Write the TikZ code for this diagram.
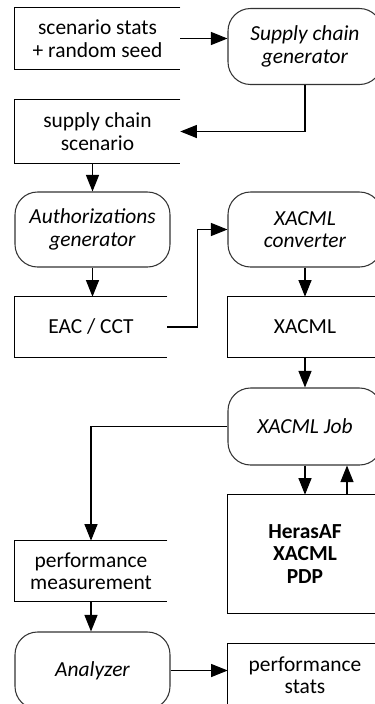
\documentclass[tikz,border=0pt]{standalone}
\usepackage{fontspec}
\setmainfont{Carlito}
\usetikzlibrary{arrows.meta, positioning, calc}

\tikzset{
  proc/.style={draw=black!80, line width=0.6pt, rounded corners=0.45cm, minimum width=3.08cm, minimum height=1.52cm, align=center, font=\fontsize{12.2}{12.8}\selectfont\itshape},
  databox/.style={minimum height=1.2cm, align=center, font=\fontsize{12.2}{12.8}\selectfont},
  flow/.style={-{Triangle[length=0.33cm, width=0.26cm]}, line width=0.6pt},
}

\begin{document}
\begin{tikzpicture}[x=0.02cm, y=-0.02cm]
  \path[use as bounding box, clip] (0,0) rectangle (375,704);

  % left column
  \node[databox, minimum width=3.3cm, minimum height=1.22cm] (stats) at (97.5,38.5) {scenario stats\\+ random seed};
  \node[databox, minimum width=3.3cm, minimum height=1.26cm] (scen) at (97.5,131.5) {supply chain\\scenario};
  \node[proc, minimum width=3.1cm, minimum height=1.5cm] (authgen) at (92.5,229.5) {Authorizations\\generator};
  \node[databox, minimum width=3.04cm] (eac) at (91,327) {EAC / CCT};
  \node[databox, minimum width=3.04cm] (meas) at (91,571) {performance\\measurement};
  \node[proc, minimum width=3.1cm, minimum height=1.54cm] (analyzer) at (92.5,670.5) {Analyzer};

  % right column
  \node[proc] (scgen) at (305,46.5) {Supply chain\\generator};
  \node[proc, minimum height=1.5cm] (conv) at (305,229.5) {XACML\\converter};
  \node[databox, minimum width=3.08cm] (xacml) at (305,327) {XACML};
  \node[proc, minimum height=1.54cm] (job) at (305,426.5) {XACML Job};
  \node[databox, minimum width=3.08cm, minimum height=2.36cm, font=\fontsize{12.2}{12.8}\selectfont\bfseries] (heras) at (305,554) {HerasAF\\XACML\\PDP};
  \node[databox, minimum width=3.08cm, minimum height=1.24cm] (pstats) at (305,675) {performance\\stats};

  % data boxes are open on the right
  \foreach \n in {stats, scen, eac, meas, xacml, heras, pstats}
    \draw[line width=0.6pt] (\n.north east) -- (\n.north west) -- (\n.south west) -- (\n.south east);

  \draw[flow] (stats.east) -- (stats.east -| scgen.west);
  \draw[flow] (scgen.south) |- (scen.east);
  \draw[flow] (scen.south -| authgen.north) -- (authgen.north);
  \draw[flow] (authgen.south) -- (authgen.south |- eac.north);
  \draw[flow] (eac.east) -- ++(30,0) |- (conv.west);
  \draw[flow] (conv.south) -- (xacml.north);
  \draw[flow] (xacml.south) -- (job.north);
  \draw[flow] (job.west) -| (meas.north);
  \draw[flow] (job.south) -- (heras.north);
  \draw[flow] ([xshift=0.84cm]heras.north) -- ([xshift=0.84cm]job.south);
  \draw[flow] (meas.south) -- (meas.south |- analyzer.north);
  \draw[flow] (analyzer.east) -- (analyzer.east -| pstats.west);
\end{tikzpicture}
\end{document}
